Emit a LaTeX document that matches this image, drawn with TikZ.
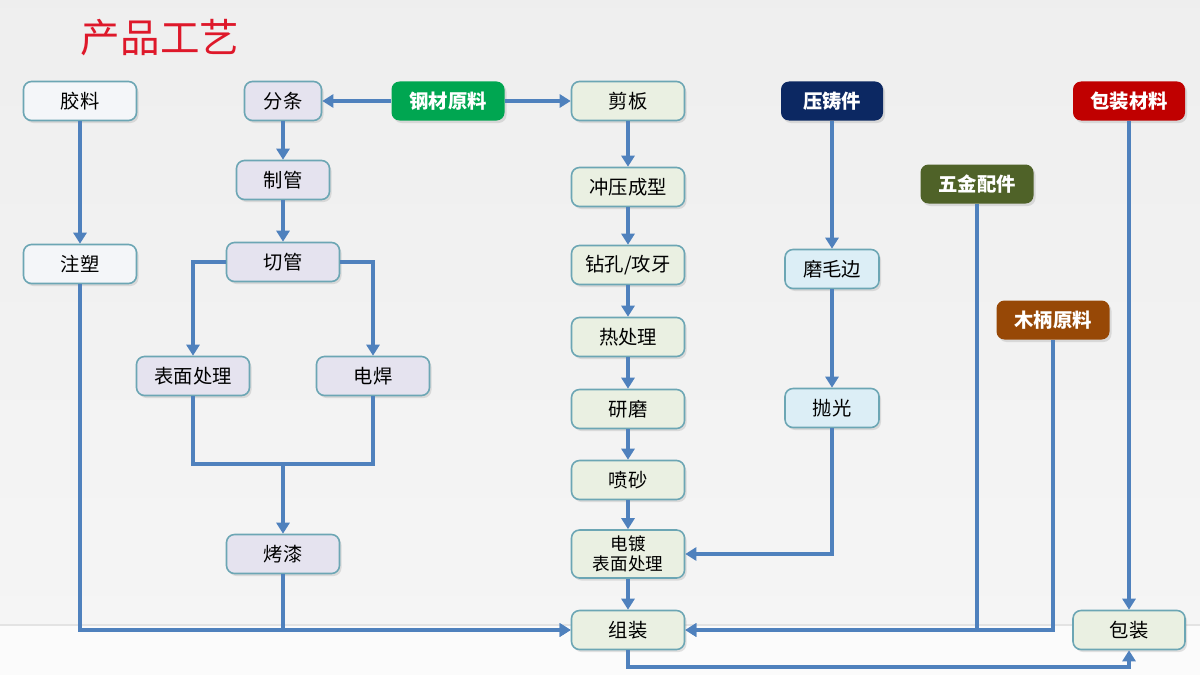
\documentclass[tikz,border=0pt]{standalone}
\usepackage{fontspec}
\setmainfont{Noto Sans CJK SC}
\usetikzlibrary{arrows.meta,shadows}
\definecolor{flowBlue}{RGB}{79,129,189}
\definecolor{boxEdge}{RGB}{108,166,180}
\definecolor{titleRed}{RGB}{222,24,42}
\definecolor{fillGlue}{RGB}{244,246,249}
\definecolor{fillTube}{RGB}{229,227,239}
\definecolor{fillSheet}{RGB}{234,240,226}
\definecolor{fillCast}{RGB}{220,238,246}
\definecolor{steelGreen}{RGB}{0,166,81}
\definecolor{castNavy}{RGB}{12,40,98}
\definecolor{hwOlive}{RGB}{79,98,40}
\definecolor{woodBrown}{RGB}{151,72,6}
\definecolor{packRed}{RGB}{192,0,0}

\tikzset{
  box/.style={draw=boxEdge,line width=0.9pt,rounded corners=1.6mm,
    minimum width=22.6mm,minimum height=7.8mm,inner sep=1pt,
    font=\fontsize{11}{13}\selectfont,
    drop shadow={opacity=0.22,shadow xshift=0.4mm,shadow yshift=-0.5mm}},
  srcbox/.style={box,draw=none,text=white,font=\fontsize{11}{13}\selectfont\bfseries},
  flow/.style={draw=flowBlue,line width=2.1pt,-{Triangle[length=2.2mm,width=2.6mm]}},
  link/.style={draw=flowBlue,line width=2.1pt}
}

\begin{document}
\begin{tikzpicture}[x=0.2mm,y=-0.2mm]
  \useasboundingbox (0,0) rectangle (1200,675);
  % background
  \fill[top color=gray!13,bottom color=gray!8] (0,0) rectangle (1200,625);
  \fill[gray!3] (0,625) rectangle (1200,675);
  \draw[gray!22,line width=0.6pt] (0,625) -- (1200,625);

  \node[text=titleRed,font=\fontsize{22.5}{26}\selectfont] (title) at (160,38) {产品工艺};

  % top row
  \node[box,fill=fillGlue] (glue) at (80,101) {胶料};
  \node[box,fill=fillTube,minimum width=15.4mm] (slit) at (283,101) {分条};
  \node[srcbox,fill=steelGreen] (steel) at (448,101) {钢材原料};
  \node[box,fill=fillSheet] (shear) at (628,101) {剪板};
  \node[srcbox,fill=castNavy,minimum width=20.4mm] (die) at (832,101) {压铸件};
  \node[srcbox,fill=packRed,minimum width=22.4mm] (pkmat) at (1129,101) {包装材料};

  % tube line
  \node[box,fill=fillTube,minimum width=18.6mm] (tube) at (283,180) {制管};
  \node[box,fill=fillTube] (cut) at (283,262) {切管};
  \node[box,fill=fillTube] (surf) at (193,376) {表面处理};
  \node[box,fill=fillTube] (weld) at (373,376) {电焊};
  \node[box,fill=fillTube] (paint) at (283,554) {烤漆};
  \coordinate (join) at (283,464);

  % glue line
  \node[box,fill=fillGlue] (mold) at (80,264) {注塑};

  % sheet line
  \node[box,fill=fillSheet] (press) at (628,187) {冲压成型};
  \node[box,fill=fillSheet] (drill) at (628,265) {钻孔/攻牙};
  \node[box,fill=fillSheet] (heat) at (628,337) {热处理};
  \node[box,fill=fillSheet] (grind) at (628,409) {研磨};
  \node[box,fill=fillSheet] (blast) at (628,480) {喷砂};
  \node[box,fill=fillSheet,minimum height=9.6mm,align=center,
        font=\fontsize{10}{11.5}\selectfont] (plate) at (628,554) {电镀\\表面处理};
  \node[box,fill=fillSheet] (asm) at (628,630) {组装};
  \coordinate (loop) at (628,667);

  % die cast line
  \node[box,fill=fillCast,minimum width=18.8mm] (deburr) at (832,269) {磨毛边};
  \node[box,fill=fillCast,minimum width=18.8mm] (polish) at (832,408) {抛光};

  % other parts
  \node[srcbox,fill=hwOlive] (hw) at (977,184) {五金配件};
  \node[srcbox,fill=woodBrown] (wood) at (1053,320) {木柄原料};
  \node[box,fill=fillSheet,minimum width=22.4mm] (pack) at (1129,630) {包装};

  % connectors
  \draw[flow] (steel) -- (slit);
  \draw[flow] (steel) -- (shear);
  \draw[flow] (glue) -- (mold);
  \draw[flow] (mold) |- (asm);
  \draw[flow] (slit) -- (tube);
  \draw[flow] (tube) -- (cut);
  \draw[flow] (cut.west) -| (surf);
  \draw[flow] (cut.east) -| (weld);
  \draw[link] (surf) |- (join) -| (weld);
  \draw[flow] (join) -- (paint);
  \draw[flow] (paint) |- (asm);
  \draw[flow] (shear) -- (press);
  \draw[flow] (press) -- (drill);
  \draw[flow] (drill) -- (heat);
  \draw[flow] (heat) -- (grind);
  \draw[flow] (grind) -- (blast);
  \draw[flow] (blast) -- (plate);
  \draw[flow] (plate) -- (asm);
  \draw[flow] (die) -- (deburr);
  \draw[flow] (deburr) -- (polish);
  \draw[flow] (polish) |- (plate);
  \draw[flow] (hw) |- (asm);
  \draw[flow] (wood) |- (asm);
  \draw[flow] (pkmat) -- (pack);
  \draw[flow] (asm) -- (loop) -| (pack);
\end{tikzpicture}
\end{document}
